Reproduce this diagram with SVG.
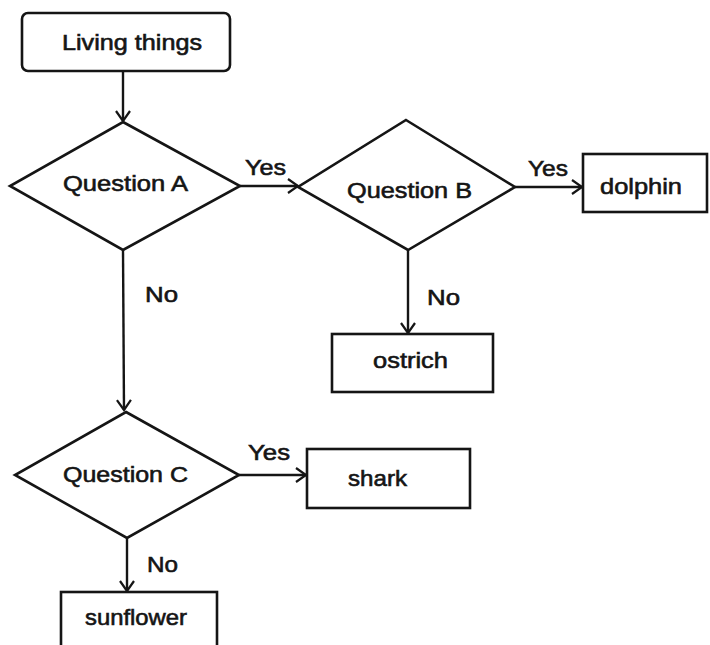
<svg xmlns="http://www.w3.org/2000/svg" width="710" height="645" viewBox="0 0 710 645">
<style>
.shape{fill:#ffffff;stroke:#151515;stroke-width:2.6}
.edge{fill:none;stroke:#151515;stroke-width:2.4}
text{font-family:"Liberation Sans",Arial,sans-serif;font-size:22px;fill:#151515;stroke:#151515;stroke-width:0.6}
</style>
<defs>
<marker id="arr" markerUnits="userSpaceOnUse" viewBox="-13 -9 15 18" refX="0" refY="0" markerWidth="15" markerHeight="18" orient="auto">
<path d="M-10,-7 L0,0 L-10,7" fill="none" stroke="#151515" stroke-width="2.2"/>
</marker>
</defs>
<rect width="710" height="645" fill="#ffffff"/>
<g id="connectors">
<line class="edge" x1="123" y1="71" x2="123" y2="121" marker-end="url(#arr)"/>
<line class="edge" x1="240" y1="186" x2="298" y2="186" marker-end="url(#arr)"/>
<line class="edge" x1="515" y1="187" x2="582" y2="187" marker-end="url(#arr)"/>
<line class="edge" x1="408" y1="250" x2="408" y2="333" marker-end="url(#arr)"/>
<line class="edge" x1="123" y1="250" x2="124" y2="410" marker-end="url(#arr)"/>
<line class="edge" x1="239" y1="475" x2="306" y2="475" marker-end="url(#arr)"/>
<line class="edge" x1="127" y1="538" x2="127" y2="591" marker-end="url(#arr)"/>
<text x="245" y="175" textLength="41" lengthAdjust="spacingAndGlyphs">Yes</text>
<text x="528" y="176" textLength="40" lengthAdjust="spacingAndGlyphs">Yes</text>
<text x="427" y="305" textLength="33" lengthAdjust="spacingAndGlyphs">No</text>
<text x="145" y="302" textLength="33" lengthAdjust="spacingAndGlyphs">No</text>
<text x="248" y="460" textLength="42" lengthAdjust="spacingAndGlyphs">Yes</text>
<text x="147" y="572" textLength="31" lengthAdjust="spacingAndGlyphs">No</text>
</g>
<g id="living-things">
<rect class="shape" x="22" y="13" width="208" height="58" rx="6"/>
<text x="62" y="50" textLength="140" lengthAdjust="spacingAndGlyphs">Living things</text>
</g>
<g id="question-a">
<polygon class="shape" points="123,122 240,186 123,250 10,186"/>
<text x="63" y="191" textLength="125" lengthAdjust="spacingAndGlyphs">Question A</text>
</g>
<g id="question-b">
<polygon class="shape" points="406,120 515,187 408,250 298,187"/>
<text x="347" y="198" textLength="125" lengthAdjust="spacingAndGlyphs">Question B</text>
</g>
<g id="dolphin">
<rect class="shape" x="583" y="154" width="124" height="58"/>
<text x="600" y="194" textLength="82" lengthAdjust="spacingAndGlyphs">dolphin</text>
</g>
<g id="ostrich">
<rect class="shape" x="332" y="334" width="161" height="58"/>
<text x="373" y="368" textLength="75" lengthAdjust="spacingAndGlyphs">ostrich</text>
</g>
<g id="question-c">
<polygon class="shape" points="126,412 239,475 127,538 15,475"/>
<text x="63" y="482" textLength="125" lengthAdjust="spacingAndGlyphs">Question C</text>
</g>
<g id="shark">
<rect class="shape" x="307" y="449" width="163" height="59"/>
<text x="348" y="486" textLength="59" lengthAdjust="spacingAndGlyphs">shark</text>
</g>
<g id="sunflower">
<rect class="shape" x="61" y="592" width="156" height="70"/>
<text x="85" y="625" textLength="102" lengthAdjust="spacingAndGlyphs">sunflower</text>
</g>
</svg>
